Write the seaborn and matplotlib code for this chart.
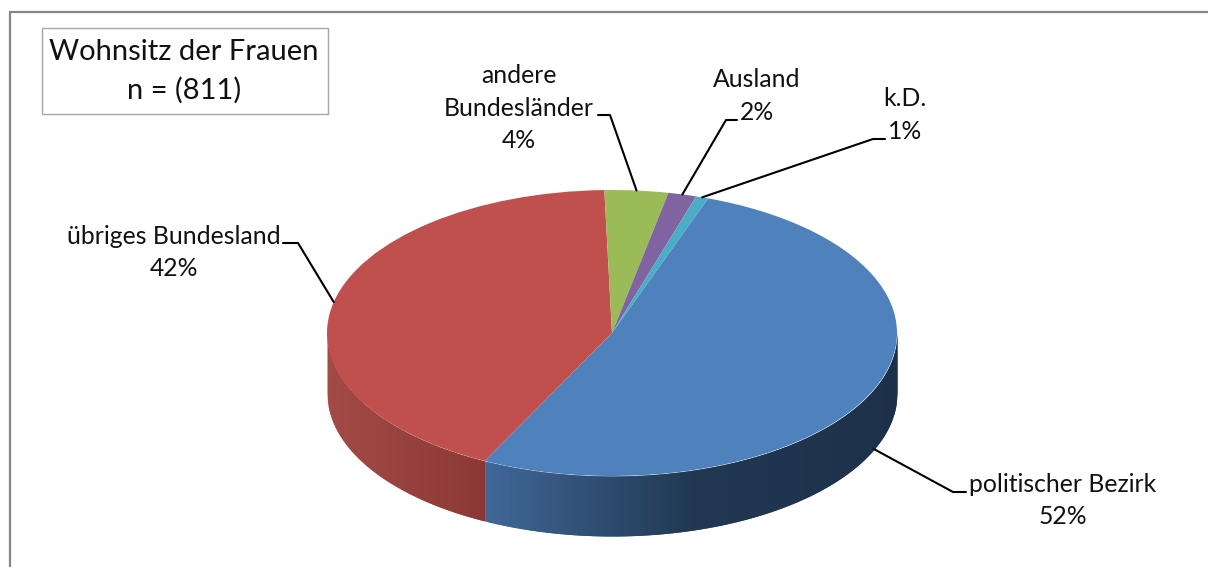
import numpy as np
import matplotlib
matplotlib.use('Agg')
import matplotlib.pyplot as plt
from matplotlib.patches import Rectangle
import seaborn as sns

# values
categories = ['politischer Bezirk', 'übriges Bundesland', 'andere\nBundesländer', 'Ausland', 'k.D.']
shares = [51.9, 42.2, 3.6, 1.6, 0.7]
title_lines = ['Wohnsitz der Frauen', 'n = (811)']

colors = ['#4f81bd', '#c0504d', '#9bbb59', '#8064a2', '#4bacc6']
side_stops = {0: ['#3f6797', '#213852', '#1d3049'], 1: ['#a34a46', '#8b3835']}

W, H = 1208, 567
CX, CY, RX, RY = 612, 333, 285, 143   # pie ellipse in pixels
DEPTH = 60 / RY
START = 70.3

sns.set_theme(style='white')
plt.rcParams['font.family'] = ['Lato', 'DejaVu Sans']

fig = plt.figure(figsize=(W / 100, H / 100), dpi=100)
fig.patch.set_facecolor('white')

# pie axes: unit circle is stretched to the flat ellipse
ax = fig.add_axes([0, 0, 1, 1])
ax.pie(shares, colors=sns.color_palette(colors), startangle=START, counterclock=False,
       wedgeprops={'linewidth': 0, 'zorder': 3})
ax.set_aspect('auto')
ax.set_xlim(-CX / RX, (W - CX) / RX)
ax.set_ylim((CY - H) / RY, CY / RY)

# wedge edges in degrees, going clockwise from the start angle
edges = START - np.cumsum([0] + shares) * 3.6

# side wall for the two big slices, strips overlap so no seams show
for i, x0, x1 in [(1, -1.0, np.cos(np.radians(edges[1]))),
                  (0, np.cos(np.radians(edges[1])), 1.0)]:
    n = 120
    xs = np.linspace(x0, x1, n + 1)
    pal = sns.blend_palette(side_stops[i], n)
    for k in range(n):
        seg = np.linspace(xs[k], xs[min(k + 2, n)], 8)
        top = -np.sqrt(np.clip(1 - seg ** 2, 0, 1))
        ax.fill_between(seg, top, top - DEPTH, color=pal[k], linewidth=0, zorder=1)

# overlay in pixel coordinates for frame, labels and leader lines
ov = fig.add_axes([0, 0, 1, 1], zorder=5)
ov.set_xlim(0, W)
ov.set_ylim(H, 0)
ov.axis('off')
ov.patch.set_alpha(0)

ov.plot([10, 10, W], [H, 12, 12], color='#868686', lw=1.6, solid_joinstyle='miter')
ov.add_patch(Rectangle((41.5, 27.5), 286, 86, facecolor='white', edgecolor='#a6a6a6', lw=1))
ov.text(184, 52, title_lines[0], fontsize=21, color='#111111', ha='center', va='center')
ov.text(184, 90, title_lines[1], fontsize=21, color='#111111', ha='center', va='center')

label_pos = [(1063, 500.5), (174, 252.5), (519, 108), (757, 96), (905, 115)]
elbows = [[(953, 492), (966, 492)], [(298, 243), (283, 243)], [(610, 115), (598, 115)],
          [(726, 120), (737, 120)], [(873, 139), (885, 139)]]
drop = [DEPTH, 0, 0, 0, 0]   # blue line starts on the lower rim

for i, name in enumerate(categories):
    mid = np.radians((edges[i] + edges[i + 1]) / 2)
    sx = CX + RX * np.cos(mid)
    sy = CY - RY * np.sin(mid) + drop[i] * RY
    pts = [(sx, sy)] + elbows[i]
    ov.plot([p[0] for p in pts], [p[1] for p in pts], color='black', lw=1.5,
            solid_joinstyle='round')
    ov.text(label_pos[i][0], label_pos[i][1], f'{name}\n{shares[i]:.0f}%', fontsize=17.8,
            color='#111111', ha='center', va='center', linespacing=1.5)

fig.savefig('out.png', dpi=100)
plt.close()
